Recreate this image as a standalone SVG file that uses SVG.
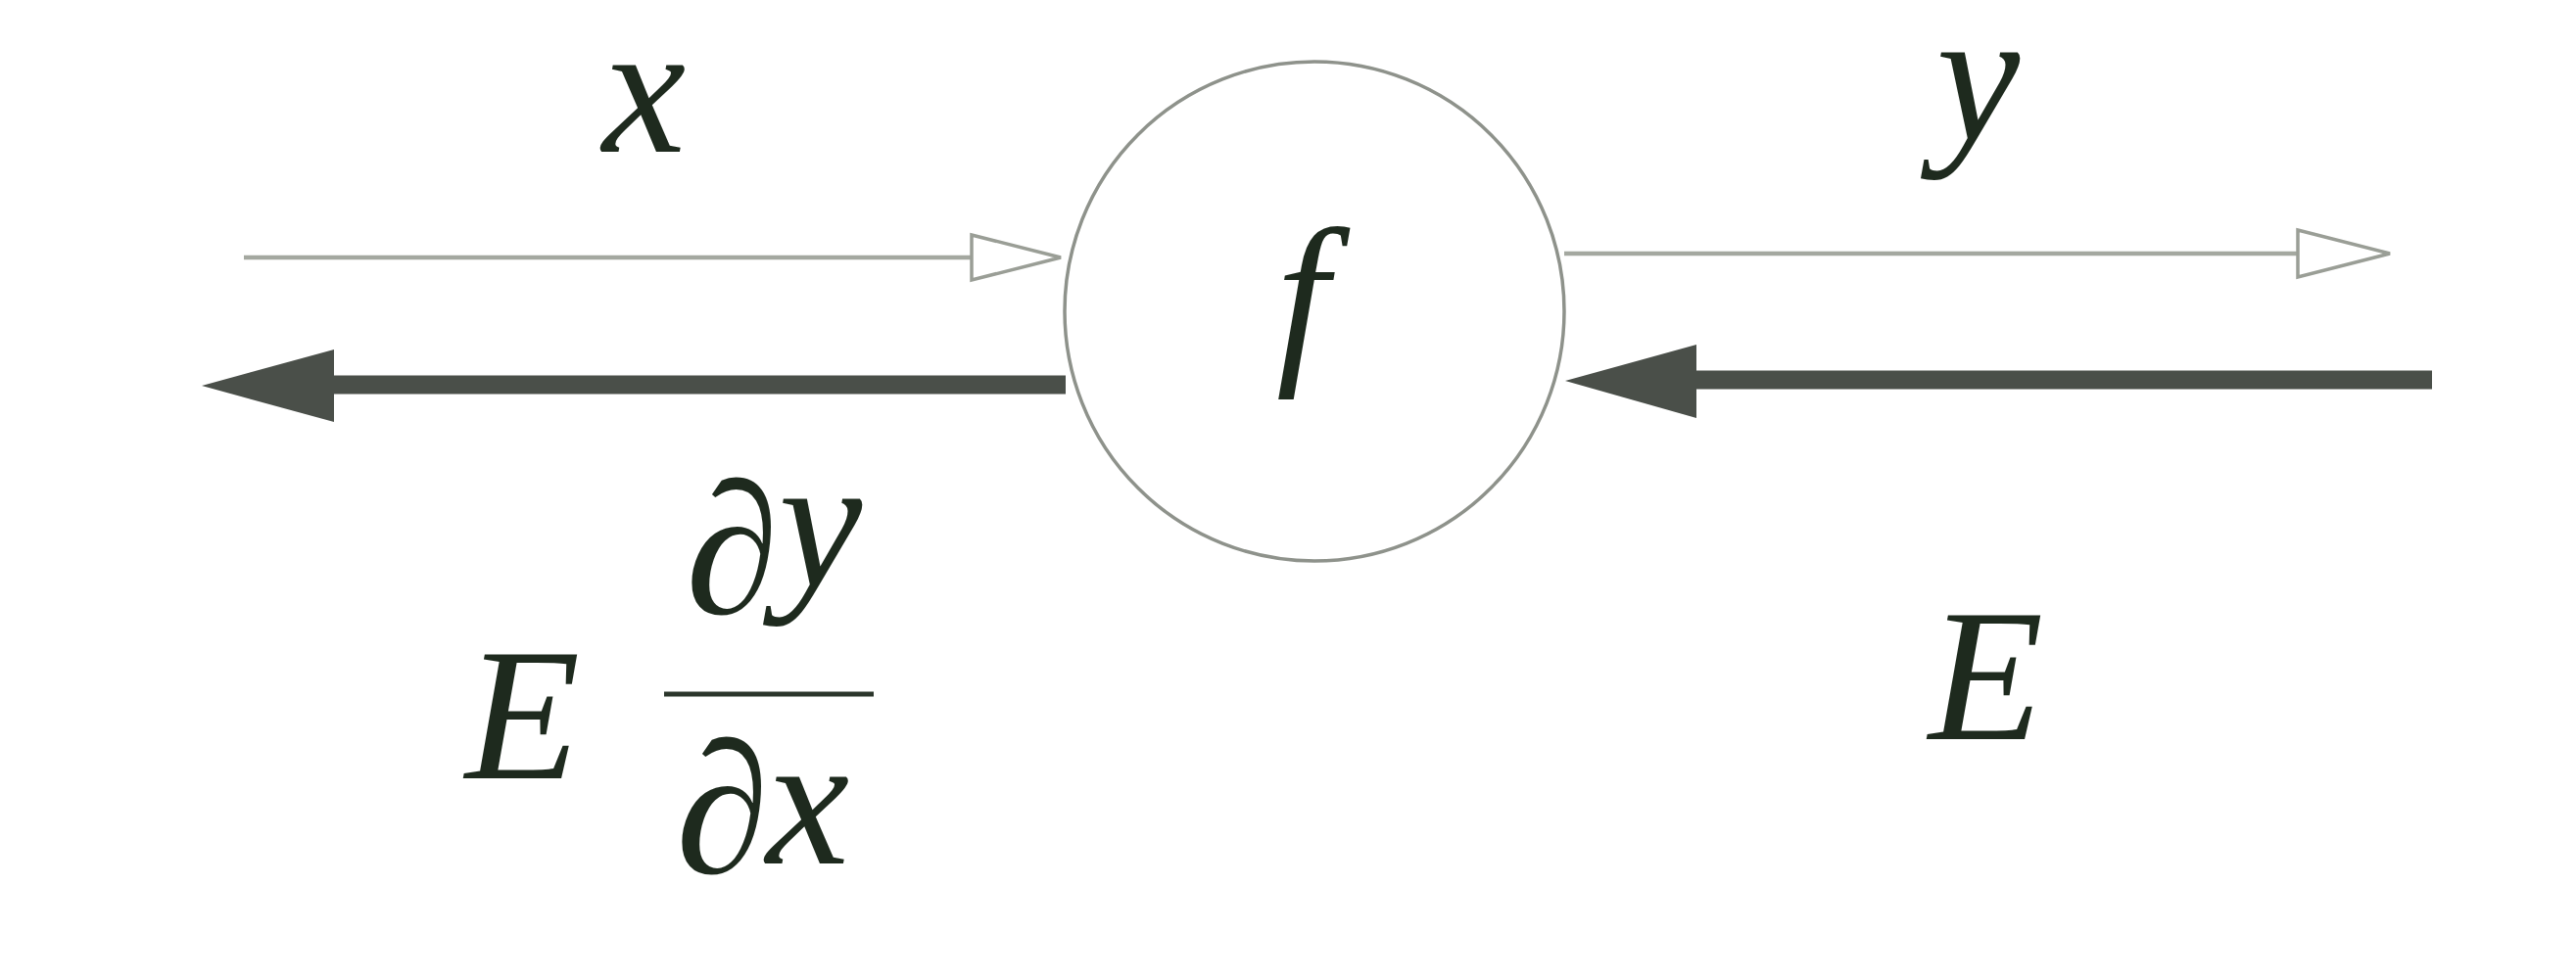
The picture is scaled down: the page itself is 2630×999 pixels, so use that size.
<svg xmlns="http://www.w3.org/2000/svg" width="2630" height="999" viewBox="0 0 2630 999">
<style>
.bg{fill:#ffffff}
.node{fill:#ffffff;stroke:#8e928b;stroke-width:3.5}
.lbl{font-family:"Liberation Serif","Times New Roman",serif;font-style:italic;font-size:192px;fill:#1e2a1e}
.sym{font-style:normal}
.thin{stroke:#a4a8a0;stroke-width:4.5;fill:none}
.thinHead{fill:#ffffff;stroke:#9a9e96;stroke-width:3.5;stroke-linejoin:miter}
.thick{stroke:#4a4f49;stroke-width:19;fill:none}
.thickHead{fill:#4a4f49;stroke:none}
.bar{stroke:#2b362b;stroke-width:5}
</style>
<rect class="bg" x="0" y="0" width="2630" height="999"/>
<g id="connectors">
  <line class="thin" x1="249" y1="263" x2="995" y2="263"/>
  <polygon class="thinHead" points="992,240 1083,263 992,286"/>
  <line class="thin" x1="1597" y1="259" x2="2348" y2="259"/>
  <polygon class="thinHead" points="2346,235 2440,259 2346,283"/>
  <line class="thick" x1="338" y1="393" x2="1088" y2="393"/>
  <polygon class="thickHead" points="206,394 341,357 341,431"/>
  <line class="thick" x1="1728" y1="388" x2="2483" y2="388"/>
  <polygon class="thickHead" points="1598,389 1732,352 1732,427"/>
</g>
<g id="node-f">
  <circle class="node" cx="1342" cy="318" r="255"/>
  <text class="lbl" x="1303" y="367">f</text>
</g>
<g id="label-x">
  <text class="lbl" x="615" y="155">x</text>
</g>
<g id="label-y">
  <text class="lbl" x="1977" y="142">y</text>
</g>
<g id="label-E-right">
  <text class="lbl" x="1969" y="755">E</text>
</g>
<g id="label-E-dydx">
  <text class="lbl" x="475" y="795">E</text>
  <text class="lbl sym" x="700" y="626">∂</text>
  <text class="lbl" x="795" y="598">y</text>
  <line class="bar" x1="678" y1="709" x2="892" y2="709"/>
  <text class="lbl sym" x="690" y="891">∂</text>
  <text class="lbl" x="782" y="882">x</text>
</g>
</svg>
